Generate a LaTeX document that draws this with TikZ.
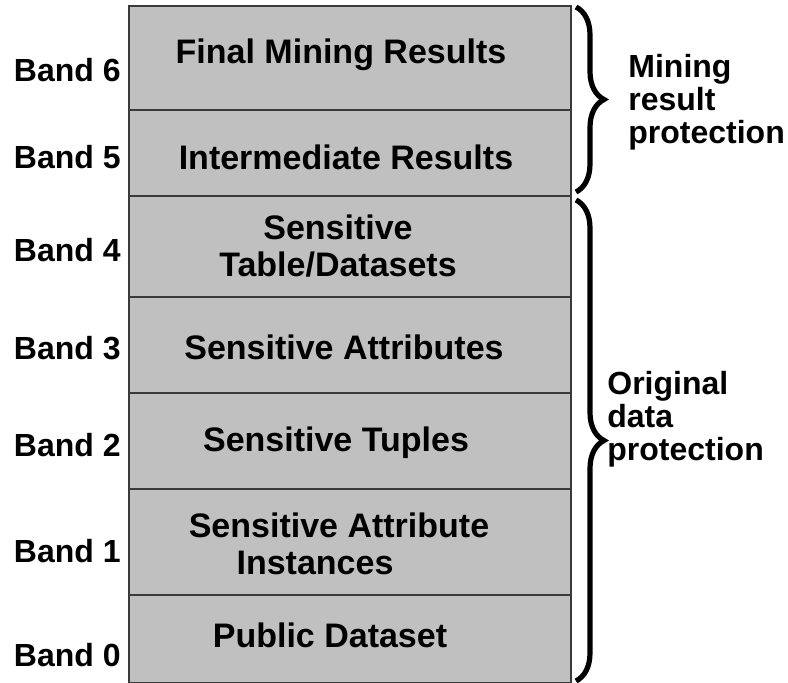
\documentclass[tikz,border=0pt]{standalone}
\usepackage{fontspec}
\setmainfont{Liberation Sans}
\usetikzlibrary{positioning,decorations.pathreplacing}
\definecolor{bandGray}{HTML}{C0C0C0}
\definecolor{bandLine}{HTML}{3A3A3A}

\begin{document}
\begin{tikzpicture}[x=0.5pt,y=-0.5pt,node distance=0pt]
  \tikzstyle{bandbox}=[draw=bandLine,fill=bandGray,line width=.6pt,outer sep=0pt,inner sep=0pt,minimum width=221pt]
  \tikzstyle{bandtext}=[inner sep=0pt,align=center,font=\fontsize{17}{18.5}\selectfont\bfseries]
  \tikzstyle{bandlabel}=[anchor=east,inner sep=0pt,font=\fontsize{16}{18}\selectfont\bfseries]
  \tikzstyle{sidelabel}=[anchor=west,inner sep=0pt,align=left,font=\fontsize{16}{16.5}\selectfont\bfseries]
  \tikzstyle{bracelook}=[line width=2.6pt,decorate,decoration={brace,amplitude=14pt,aspect=.5}]
  \useasboundingbox (0,0) rectangle (788,683);
  % the stack of bands
  \node[bandbox,minimum height=52pt] (b6) at (350,58) {};
  \node[bandbox,minimum height=43pt,below=of b6] (b5) {};
  \node[bandbox,minimum height=50.5pt,below=of b5] (b4) {};
  \node[bandbox,minimum height=48pt,below=of b4] (b3) {};
  \node[bandbox,minimum height=48pt,below=of b3] (b2) {};
  \node[bandbox,minimum height=53pt,below=of b2] (b1) {};
  \node[bandbox,minimum height=44pt,below=of b1] (b0) {};
  \node[bandtext] (t6) at ([xshift=-4.5pt,yshift=1.5pt]b6) {Final Mining Results};
  \node[bandtext] (t5) at ([xshift=-2pt,yshift=-2pt]b5) {Intermediate Results};
  \node[bandtext] (t4) at ([xshift=-6pt]b4) {Sensitive\\Table/Datasets};
  \node[bandtext] (t3) at ([xshift=-3pt,yshift=-1pt]b3) {Sensitive Attributes};
  \node[bandtext] (t2) at ([xshift=-7pt,yshift=-1pt]b2) {Sensitive Tuples};
  \node[bandtext] (t1) at ([xshift=-5.5pt,yshift=-1pt]b1) {Sensitive Attribute\\\hspace*{-24pt}Instances};
  \node[bandtext] (t0) at ([xshift=-10pt,yshift=2pt]b0) {Public Dataset};
  \foreach \i/\y in {6/70,5/157,4/250,3/348,2/445,1/551,0/655}{\node[bandlabel] (l\i) at (121,\y) {Band \i};}
  % braces on the right
  \coordinate (mtop) at ([xshift=2.5pt,yshift=-.5pt]b6.north east);
  \coordinate (mbot) at ([xshift=2.5pt,yshift=2pt]b5.south east);
  \coordinate (otop) at ([xshift=2.5pt,yshift=-2pt]b4.north east);
  \coordinate (obot) at ([xshift=2.5pt,yshift=1pt]b0.south east);
  \draw[bracelook] (mtop) -- (mbot);
  \draw[bracelook] (otop) -- (obot);
  \node[sidelabel] (mres) at (628,102) {Mining\\result\\protection};
  \node[sidelabel] (orig) at (607,419) {Original\\data\\protection};
\end{tikzpicture}
\end{document}
